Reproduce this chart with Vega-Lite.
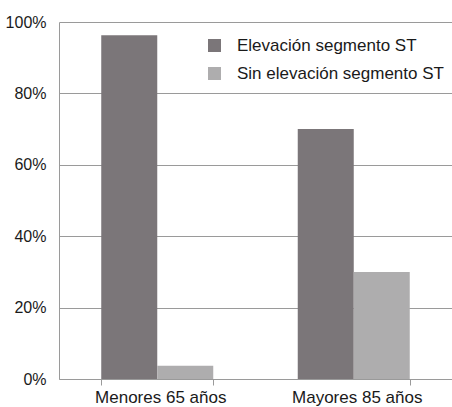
{
  "$schema": "https://vega.github.io/schema/vega-lite/v6.json",
  "width": 393,
  "height": 357,
  "autosize": {"type": "none"},
  "padding": {"left": 59, "top": 22, "right": 0, "bottom": 28},
  "background": "white",
  "config": {
    "view": {"stroke": null},
    "font": "Liberation Sans"
  },
  "data": {
    "values": [
      {"grupo": "Menores 65 años", "serie": "Elevación segmento ST", "valor": 0.963},
      {"grupo": "Menores 65 años", "serie": "Sin elevación segmento ST", "valor": 0.037},
      {"grupo": "Mayores 85 años", "serie": "Elevación segmento ST", "valor": 0.70},
      {"grupo": "Mayores 85 años", "serie": "Sin elevación segmento ST", "valor": 0.30}
    ]
  },
  "mark": {"type": "bar"},
  "encoding": {
    "x": {
      "field": "grupo",
      "type": "nominal",
      "sort": ["Menores 65 años", "Mayores 85 años"],
      "scale": {"paddingInner": 0.43, "paddingOuter": 0.215},
      "axis": {
        "title": null,
        "labelAngle": 0,
        "labelFontSize": 17,
        "labelColor": "#1a1a1a",
        "labelPadding": 4,
        "labelOffset": 3,
        "tickBand": "extent",
        "tickSize": 6,
        "tickColor": "#9a9a9a",
        "domainColor": "#9a9a9a",
        "grid": false
      }
    },
    "xOffset": {
      "field": "serie",
      "type": "nominal",
      "sort": ["Elevación segmento ST", "Sin elevación segmento ST"],
      "scale": {"paddingInner": 0, "paddingOuter": 0}
    },
    "y": {
      "field": "valor",
      "type": "quantitative",
      "scale": {"domain": [0, 1], "nice": false},
      "axis": {
        "title": null,
        "format": ".0%",
        "values": [0, 0.2, 0.4, 0.6, 0.8, 1],
        "labelFontSize": 16,
        "labelColor": "#1a1a1a",
        "labelPadding": 13,
        "ticks": false,
        "grid": true,
        "gridColor": "#9a9a9a",
        "gridWidth": 1,
        "domainColor": "#9a9a9a"
      }
    },
    "color": {
      "field": "serie",
      "type": "nominal",
      "sort": ["Elevación segmento ST", "Sin elevación segmento ST"],
      "scale": {"range": ["#7b7679", "#aeadae"]},
      "legend": {
        "title": null,
        "orient": "none",
        "legendX": 147,
        "legendY": 15,
        "symbolType": "square",
        "symbolSize": 169,
        "symbolStrokeWidth": 0,
        "symbolOpacity": 1,
        "labelFontSize": 17,
        "labelColor": "#1a1a1a",
        "labelOffset": 14,
        "rowPadding": 10,
        "padding": 0,
        "labelLimit": 300
      }
    }
  }
}
